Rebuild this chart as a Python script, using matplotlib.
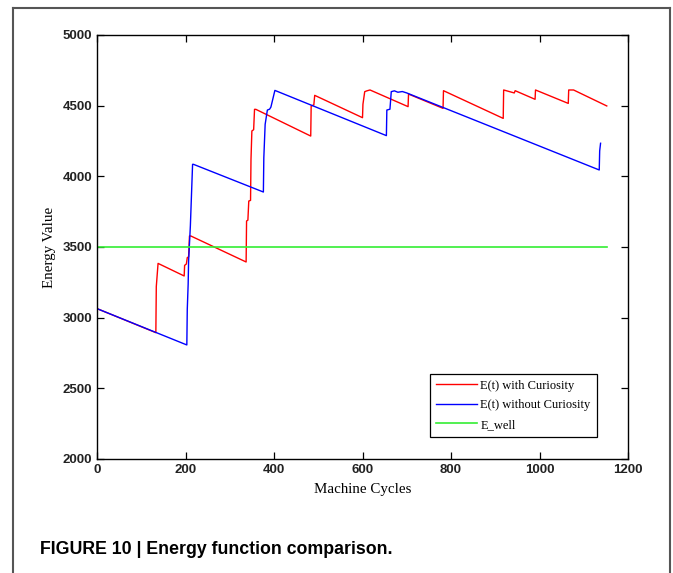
import matplotlib
matplotlib.use("Agg")
from matplotlib import pyplot as plt
from matplotlib.lines import Line2D

# E(t) with curiosity (red)
red_x = [0, 133, 134, 138, 197, 198, 202, 204, 207, 209, 212,
         337, 338, 341, 343, 347, 348, 350, 354, 356, 359,
         483, 484, 490, 492, 600, 601, 605, 610, 617,
         703, 704, 782, 783, 918, 919, 943, 945,
         990, 991, 1065, 1066, 1077, 1152]
red_y = [3064, 2894, 3220, 3384, 3295, 3370, 3380, 3425, 3430, 3578, 3578,
         3394, 3684, 3690, 3825, 3830, 4120, 4321, 4330, 4474, 4474,
         4285, 4498, 4505, 4573, 4415, 4510, 4599, 4605, 4611,
         4493, 4582, 4481, 4606, 4410, 4611, 4590, 4606,
         4545, 4611, 4516, 4611, 4611, 4498]

# E(t) without curiosity (blue)
blue_x = [0, 203, 204, 206, 207, 211, 216, 218,
          376, 377, 380, 385, 390, 393, 402,
          654, 655, 662, 665, 672, 680, 690, 700,
          1135, 1136, 1138]
blue_y = [3064, 2807, 3059, 3236, 3401, 3649, 4085, 4085,
          3889, 4132, 4368, 4469, 4475, 4490, 4608,
          4288, 4469, 4475, 4599, 4605, 4595, 4600, 4590,
          4045, 4180, 4234]

well_x = [0, 1152]
well_y = [3500, 3500]

tick_font = ["Liberation Sans", "DejaVu Sans"]
serif_font = ["Liberation Serif", "DejaVu Serif"]

fig = plt.figure(figsize=(6.73, 5.73), dpi=100)
ax = fig.add_axes([97 / 673, 1 - 459 / 573, 531 / 673, 424 / 573])

ax.plot(red_x, red_y, color="#ff0000", lw=1.0, label="E(t) with Curiosity")
ax.plot(blue_x, blue_y, color="#0000ff", lw=1.0, label="E(t) without Curiosity")
ax.plot(well_x, well_y, color="#33ee33", lw=1.2, label="E_well")

ax.set_xlim(0, 1200)
ax.set_ylim(2000, 5000)
ax.set_xticks(range(0, 1201, 200))
ax.set_yticks(range(2000, 5001, 500))
ax.tick_params(direction="in", top=True, right=True, length=5, width=0.9, pad=3.5)
for lab in ax.get_xticklabels() + ax.get_yticklabels():
    lab.set_family(tick_font)
    lab.set_fontsize(9.5)
    lab.set_fontweight("bold")
    lab.set_color("#222222")
for s in ax.spines.values():
    s.set_linewidth(1.0)

ax.set_xlabel("Machine Cycles", family=serif_font, fontsize=10.8, labelpad=5)
ax.set_ylabel("Energy Value", family=serif_font, fontsize=10.8, labelpad=5)

leg = ax.legend(loc="lower right", bbox_to_anchor=(597 / 673, 1 - 437 / 573),
                bbox_transform=fig.transFigure, borderaxespad=0, fancybox=False,
                framealpha=1, edgecolor="black", prop={"family": serif_font, "size": 9},
                handlelength=3.3, handletextpad=0.25, borderpad=0.5, labelspacing=0.6)
leg.get_frame().set_linewidth(0.9)

# page frame around figure and caption
fc = "#555555"
fig.add_artist(Line2D([13 / 673, 13 / 673], [0, 1 - 8 / 573], color=fc, lw=1.5))
fig.add_artist(Line2D([670 / 673, 670 / 673], [0, 1 - 8 / 573], color=fc, lw=1.5))
fig.add_artist(Line2D([13 / 673, 670 / 673], [1 - 8 / 573, 1 - 8 / 573], color=fc, lw=1.5))

fig.text(40 / 673, 1 - 549 / 573, "FIGURE 10 | Energy function comparison.",
         family=["Liberation Sans", "DejaVu Sans"],
         fontsize=12.8, fontweight="bold", va="center", ha="left")

fig.savefig("out.png", dpi=100)
